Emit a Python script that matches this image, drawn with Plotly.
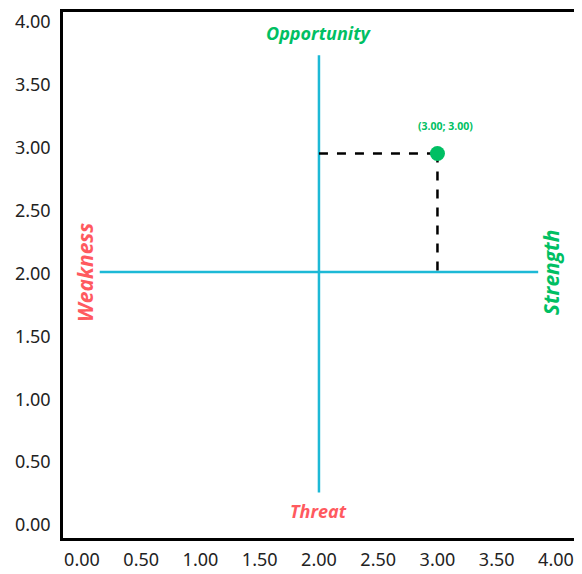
import plotly.graph_objects as go

# ---- data ----
tick_values = [0, 0.5, 1, 1.5, 2, 2.5, 3, 3.5, 4]
tick_labels = ["0.00", "0.50", "1.00", "1.50", "2.00", "2.50", "3.00", "3.50", "4.00"]

center = (2.0, 2.0)
axis_low, axis_high = 0.15, 3.85
point_x = [3.0]
point_y = [3.0]
point_label = "(3.00; 3.00)"

quadrant_labels = {
    "Opportunity": (2.0, 4.02),
    "Threat": (2.0, -0.02),
    "Weakness": (0.025, 2.0),
    "Strength": (3.96, 2.0),
}

GREEN = "#00BF63"
RED = "#FF5A5F"
CYAN = "#1DB9D6"

fig = go.Figure()

# empty trace so the label axis (y) is drawn
fig.add_trace(go.Scatter(x=[], y=[], mode="markers", yaxis="y", hoverinfo="skip"))

# cross lines
fig.add_trace(go.Scatter(x=[axis_low, axis_high], y=[center[1], center[1]], mode="lines",
                         line=dict(color=CYAN, width=2.5), yaxis="y2", hoverinfo="skip"))
fig.add_trace(go.Scatter(x=[center[0], center[0]], y=[axis_low - 0.01, axis_high - 0.02], mode="lines",
                         line=dict(color=CYAN, width=2.5), yaxis="y2", hoverinfo="skip"))
# dashed guides
fig.add_trace(go.Scatter(x=[center[0], point_x[0]], y=[point_y[0], point_y[0]], mode="lines",
                         line=dict(color="black", width=2.5, dash="dash"), yaxis="y2", hoverinfo="skip"))
fig.add_trace(go.Scatter(x=[point_x[0], point_x[0]], y=[point_y[0], center[1]], mode="lines",
                         line=dict(color="black", width=2.5, dash="dash"), yaxis="y2", hoverinfo="skip"))
# point
fig.add_trace(go.Scatter(x=point_x, y=point_y, mode="markers",
                         marker=dict(color=GREEN, size=15), yaxis="y2"))

annotations = [
    dict(x=point_x[0], y=point_y[0], xref="x", yref="y2", text=point_label, showarrow=False,
         yshift=27, xshift=8, font=dict(family="Open Sans", size=10.5, color=GREEN, weight="bold")),
]
for name, (ax, ay) in quadrant_labels.items():
    color = GREEN if name in ("Opportunity", "Strength") else RED
    rotated = name in ("Weakness", "Strength")
    annotations.append(dict(x=ax, y=ay, xref="x", yref="y2", text=f"<b><i>{name}</i></b>",
                            showarrow=False, textangle=-90 if rotated else 0,
                            font=dict(family="Open Sans", size=21 if rotated else 18, color=color)))

fig.update_layout(
    width=574, height=566,
    margin=dict(l=55, r=4, t=4, b=36),
    paper_bgcolor="white", plot_bgcolor="white",
    showlegend=False,
    annotations=annotations,
    xaxis=dict(range=[-0.16, 4.186], tickvals=tick_values, ticktext=tick_labels,
               showgrid=False, zeroline=False, showline=True, mirror=True, automargin=False,
               linecolor="black", linewidth=2.5, ticks="", ticklabelstandoff=4,
               tickfont=dict(family="Noto Sans", size=18, color="#222")),
    yaxis=dict(range=[-0.103, 4.08], tickvals=tick_values, ticktext=tick_labels,
               showgrid=False, zeroline=False, showline=True, mirror=True, automargin=False,
               linecolor="black", linewidth=2.5, ticks="", ticklabelstandoff=6,
               tickfont=dict(family="Noto Sans", size=18, color="#222")),
    yaxis2=dict(range=[-0.245, 4.194], overlaying="y", visible=False, automargin=False,
                showgrid=False, zeroline=False),
)

fig.write_html("out.html")
